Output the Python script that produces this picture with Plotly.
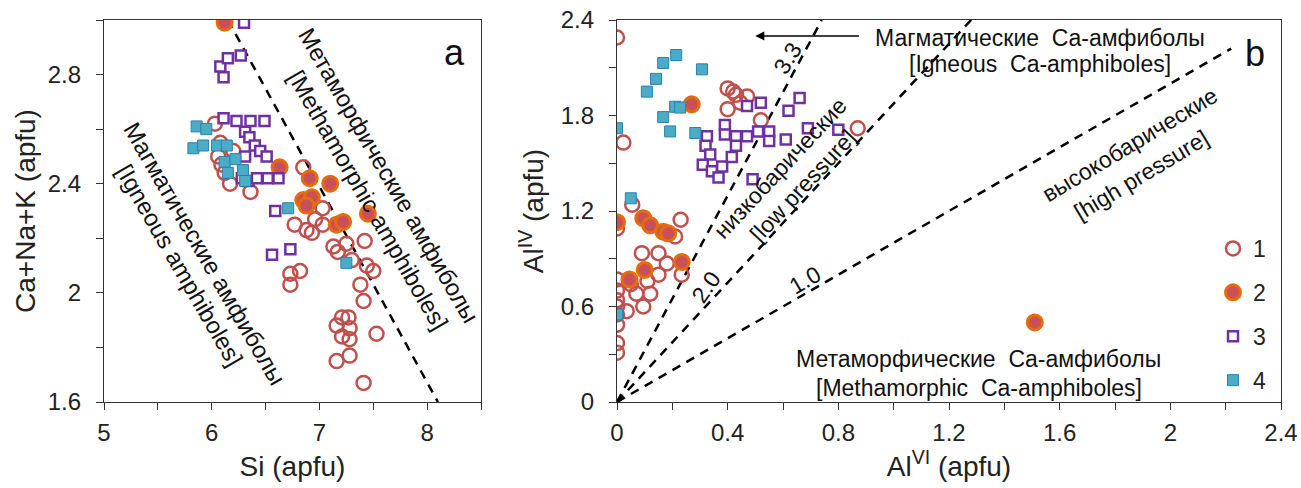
import plotly.graph_objects as go

# ---------------- data: panel a (Si vs Ca+Na+K) ----------------
a1_x = [6.03, 6.08, 6.06, 6.09, 6.17, 6.36, 6.12, 6.20,
        6.85, 7.03, 6.96, 6.77, 6.88, 6.93, 7.03, 7.13, 7.25, 7.42, 7.17, 7.30, 7.44, 7.50,
        7.38, 7.41, 6.73, 6.82, 6.73, 7.16, 7.27, 7.28, 7.28, 7.16, 7.28, 7.53, 7.41, 7.21, 7.21]
a1_y = [2.62, 2.55, 2.50, 2.47, 2.40, 2.37, 2.44, 2.52,
        2.46, 2.31, 2.27, 2.25, 2.23, 2.22, 2.25, 2.17, 2.18, 2.19, 2.15, 2.12, 2.10, 2.08,
        2.03, 1.97, 2.07, 2.08, 2.03, 1.88, 1.91, 1.87, 1.83, 1.75, 1.77, 1.85, 1.67, 1.91, 1.84]
a2_x = [6.12, 6.63, 6.91, 7.10, 6.85, 6.93, 6.88, 7.16, 7.22, 7.45]
a2_y = [2.99, 2.46, 2.42, 2.40, 2.34, 2.35, 2.32, 2.25, 2.26, 2.29]
a3_x = [6.30, 6.08, 6.15, 6.27, 6.11, 6.11, 6.23, 6.36, 6.49, 6.31, 6.35, 6.40, 6.45,
        6.51, 6.34, 6.42, 6.52, 6.62, 6.28, 6.31, 6.59, 6.73, 6.56]
a3_y = [2.99, 2.83, 2.86, 2.87, 2.79, 2.64, 2.63, 2.63, 2.63, 2.59, 2.57, 2.54, 2.52,
        2.50, 2.41, 2.42, 2.42, 2.42, 2.42, 2.50, 2.30, 2.16, 2.14]
a4_x = [5.86, 5.95, 5.83, 5.92, 6.05, 6.14, 6.12, 6.22, 6.15, 6.29, 6.31, 6.71, 7.25]
a4_y = [2.61, 2.60, 2.53, 2.54, 2.54, 2.54, 2.48, 2.49, 2.44, 2.45, 2.41, 2.31, 2.11]
a_line_x = [6.15, 8.10]
a_line_y = [3.00, 1.60]

# ---------------- data: panel b (AlVI vs AlIV) ----------------
b1_x = [0.0, 0.023, 0.40, 0.42, 0.43, 0.47, 0.446, 0.40, 0.52, 0.87,
        0.0, 0.23, 0.21, 0.09, 0.15, 0.18, 0.234, 0.15, 0.0, 0.0, 0.0, 0.0, 0.0, 0.0,
        0.0, 0.0, 0.035, 0.095, 0.12, 0.07, 0.05, 0.11, 0.055]
b1_y = [2.29, 1.63, 1.97, 1.95, 1.93, 1.92, 1.88, 1.84, 1.77, 1.72,
        1.09, 1.145, 1.04, 0.935, 0.935, 0.87, 0.80, 0.80, 0.77, 0.70, 0.64, 0.60, 0.55, 0.485,
        0.37, 0.31, 0.57, 0.60, 0.68, 0.68, 0.74, 0.76, 1.24]
b2_x = [0.27, 0.0, 0.095, 0.12, 0.167, 0.185, 0.234, 0.10, 0.045, 1.51]
b2_y = [1.87, 1.13, 1.155, 1.11, 1.07, 1.06, 0.88, 0.83, 0.77, 0.50]
b3_x = [0.47, 0.52, 0.62, 0.66, 0.55, 0.61, 0.69, 0.80, 0.39, 0.39, 0.43, 0.47, 0.325, 0.32,
        0.337, 0.31, 0.343, 0.367, 0.38, 0.415, 0.43, 0.49, 0.55, 0.51]
b3_y = [1.86, 1.88, 1.83, 1.91, 1.70, 1.65, 1.72, 1.71, 1.74, 1.68, 1.67, 1.67, 1.67, 1.61,
        1.555, 1.49, 1.45, 1.41, 1.48, 1.54, 1.61, 1.40, 1.64, 1.70]
b4_x = [0.214, 0.167, 0.141, 0.108, 0.307, 0.21, 0.228, 0.167, 0.192, 0.283, 0.0, 0.05, 0.0]
b4_y = [2.18, 2.13, 2.03, 1.95, 2.09, 1.855, 1.85, 1.79, 1.70, 1.69, 1.72, 1.28, 0.55]
# boundary lines from the origin (end points)
b_lines_x = [[0, 0.74], [0, 1.28], [0, 2.22]]
b_lines_y = [[0, 2.40], [0, 2.40], [0, 2.22]]
b_line_labels = ["3.3", "2.0", "1.0"]

series_names = ["1", "2", "3", "4"]

RED = "#C0504D"
ORANGE = "#E46C0A"
PURPLE = "#7030A0"
BLUE = "#4BACC6"
BLUE_EDGE = "#2C7FB0"
FONT = "Liberation Sans"

styles = [
    dict(symbol="circle", size=14, color="rgba(255,255,255,0)", line=dict(color=RED, width=2.5)),
    dict(symbol="circle", size=15, color="#C9505A", line=dict(color=ORANGE, width=3)),
    dict(symbol="square", size=10, color="white", line=dict(color=PURPLE, width=2.5)),
    dict(symbol="square", size=11, color=BLUE, line=dict(color=BLUE_EDGE, width=1)),
]

fig = go.Figure()

a_data = [(a1_x, a1_y), (a2_x, a2_y), (a3_x, a3_y), (a4_x, a4_y)]
b_data = [(b1_x, b1_y), (b2_x, b2_y), (b3_x, b3_y), (b4_x, b4_y)]

fig.add_trace(go.Scatter(x=a_line_x, y=a_line_y, mode="lines", xaxis="x", yaxis="y",
                         line=dict(color="black", width=2.5, dash="9px,7px"), showlegend=False,
                         hoverinfo="skip"))
for lx, ly in zip(b_lines_x, b_lines_y):
    fig.add_trace(go.Scatter(x=lx, y=ly, mode="lines", xaxis="x2", yaxis="y2",
                             line=dict(color="black", width=2.5, dash="9px,7px"),
                             showlegend=False, hoverinfo="skip"))

for (x, y), st in zip(a_data, styles):
    fig.add_trace(go.Scatter(x=x, y=y, mode="markers", xaxis="x", yaxis="y",
                             marker=st, showlegend=False))
for (x, y), st, nm in zip(b_data, styles, series_names):
    fig.add_trace(go.Scatter(x=x, y=y, mode="markers", xaxis="x2", yaxis="y2",
                             marker=st, name=nm, legendgroup=nm, showlegend=True))

axis_common = dict(showline=True, linecolor="#333", linewidth=1.2, mirror=True,
                   ticks="outside", ticklen=7, tickcolor="#333", tickwidth=1.2,
                   showgrid=False, zeroline=False, automargin=False,
                   tickfont=dict(family=FONT, size=24, color="#222"),
                   title_font=dict(family=FONT, size=28, color="#222"))
minor_t = dict(ticks="outside", ticklen=7, tickcolor="#333", tickwidth=1.2)

dom_y = [1 - 402 / 488, 1 - 20 / 488]
fig.update_layout(
    width=1301, height=488,
    margin=dict(l=0, r=0, t=0, b=0, autoexpand=False),
    paper_bgcolor="white", plot_bgcolor="white",
    font=dict(family=FONT, color="#222"),
    xaxis=dict(axis_common, domain=[104 / 1301, 481 / 1301], range=[5, 8.5], dtick=1, tick0=5,
               minor=dict(minor_t, dtick=0.5),
               title=dict(text="Si (apfu)", standoff=11), anchor="y", ticklabelstandoff=2),
    yaxis=dict(axis_common, domain=dom_y, range=[1.6, 3.0], dtick=0.4, tick0=1.6,
               minor=dict(minor_t, dtick=0.2),
               title=dict(text="Ca+Na+K (apfu)", standoff=3), anchor="x", ticklabelstandoff=10),
    xaxis2=dict(axis_common, domain=[617 / 1301, 1281 / 1301], range=[0, 2.4], dtick=0.4, tick0=0,
                minor=dict(minor_t, dtick=0.2),
                title=dict(text="Al<sup>VI</sup> (apfu)", standoff=11), anchor="y2", ticklabelstandoff=2),
    yaxis2=dict(axis_common, domain=dom_y, range=[0, 2.4], dtick=0.6, tick0=0,
                minor=dict(minor_t, dtick=0.3),
                title=dict(text="Al<sup>IV</sup> (apfu)", standoff=8), anchor="x2", ticklabelstandoff=10),
    legend=dict(x=1213 / 1301, y=1 - 227 / 488, xanchor="left", yanchor="top",
                font=dict(family=FONT, size=23, color="#222"), bgcolor="rgba(0,0,0,0)",
                traceorder="grouped", tracegroupgap=11, itemwidth=30),
)

ann = []
tf = dict(family=FONT, size=23, color="#111")
tf24 = dict(family=FONT, size=24, color="#111")


def t(x, y, text, ref="2", angle=0, font=tf):
    return dict(x=x, y=y, xref="x" + ref, yref="y" + ref, showarrow=False, textangle=angle,
                text=text, font=font, xanchor="center", yanchor="middle")


# panel letters
ann.append(dict(x=454 / 1301, y=1 - 52 / 488, xref="paper", yref="paper", text="a",
                showarrow=False, xanchor="center", yanchor="middle",
                font=dict(family=FONT, size=36, color="#111")))
ann.append(dict(x=1255 / 1301, y=1 - 54 / 488, xref="paper", yref="paper", text="b",
                showarrow=False, xanchor="center", yanchor="middle",
                font=dict(family=FONT, size=36, color="#111")))
# panel a zone labels (rotated)
ann.append(t(5.938, 2.146, "Магматические амфиболы", "", 60, tf24))
ann.append(t(5.706, 2.102, "[Igneous amphiboles]", "", 60, tf24))
ann.append(t(7.646, 2.431, "Метаморфические амфиболы", "", 60, tf24))
ann.append(t(7.456, 2.340, "[Methamorphic amphiboles]", "", 60, tf24))
# panel b
ann.append(dict(x=0.50, y=2.30, ax=0.88, ay=2.30, xref="x2", yref="y2", axref="x2", ayref="y2",
                text="", showarrow=True, arrowhead=2, arrowsize=1.2, arrowwidth=1.5,
                arrowcolor="black"))
ann.append(t(1.53, 2.289, "Магматические&nbsp;&nbsp;Ca-амфиболы"))
ann.append(t(1.53, 2.125, "[Igneous&nbsp;&nbsp;Ca-amphiboles]"))
ann.append(t(1.308, 0.272, "Метаморфические&nbsp;&nbsp;Ca-амфиболы"))
ann.append(t(1.308, 0.090, "[Methamorphic&nbsp;&nbsp;Ca-amphiboles]"))
ann.append(t(0.59, 1.47, "низкобарические", angle=-47))
ann.append(t(0.67, 1.36, "[low pressure]", angle=-47))
ann.append(t(1.851, 1.616, "высокобарические", angle=-31))
ann.append(t(1.895, 1.428, "[high pressure]", angle=-31))
label_pos = [(0.616, 2.164, -58), (0.322, 0.723, -55), (0.681, 0.767, -30)]
for lab, (lx, ly, ang) in zip(b_line_labels, label_pos):
    ann.append(t(lx, ly, lab, angle=ang))
fig.update_layout(annotations=ann)

fig.write_html("out.html", config={"displayModeBar": False},
               post_script="document.body.style.margin='0';document.body.style.overflow='hidden';")
